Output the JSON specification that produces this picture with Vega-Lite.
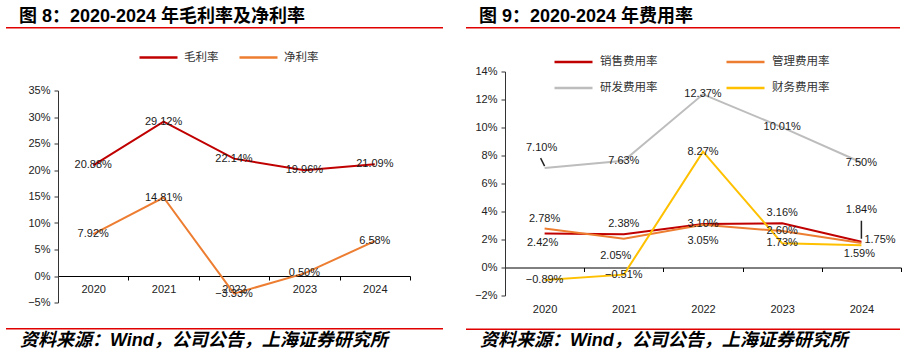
{
  "$schema": "https://vega.github.io/schema/vega-lite/v6.json",
  "background": "white",
  "padding": {"left": 6, "top": 8, "right": 0, "bottom": 0},
  "config": {"view": {"stroke": null}},
  "datasets": {
    "gross": [
      {"year": "2020", "series": "毛利率", "v": 0.2088},
      {"year": "2021", "series": "毛利率", "v": 0.2912},
      {"year": "2022", "series": "毛利率", "v": 0.2214},
      {"year": "2023", "series": "毛利率", "v": 0.1996},
      {"year": "2024", "series": "毛利率", "v": 0.2109},
      {"year": "2020", "series": "净利率", "v": 0.0792},
      {"year": "2021", "series": "净利率", "v": 0.1481},
      {"year": "2022", "series": "净利率", "v": -0.0333},
      {"year": "2023", "series": "净利率", "v": 0.0050},
      {"year": "2024", "series": "净利率", "v": 0.0658}
    ],
    "fee": [
      {"year": "2020", "item": "销售费用率", "v": 0.0242},
      {"year": "2021", "item": "销售费用率", "v": 0.0238},
      {"year": "2022", "item": "销售费用率", "v": 0.0310},
      {"year": "2023", "item": "销售费用率", "v": 0.0316},
      {"year": "2024", "item": "销售费用率", "v": 0.0184},
      {"year": "2020", "item": "管理费用率", "v": 0.0278},
      {"year": "2021", "item": "管理费用率", "v": 0.0205},
      {"year": "2022", "item": "管理费用率", "v": 0.0305},
      {"year": "2023", "item": "管理费用率", "v": 0.0260},
      {"year": "2024", "item": "管理费用率", "v": 0.0175},
      {"year": "2020", "item": "研发费用率", "v": 0.0710},
      {"year": "2021", "item": "研发费用率", "v": 0.0763},
      {"year": "2022", "item": "研发费用率", "v": 0.1237},
      {"year": "2023", "item": "研发费用率", "v": 0.1001},
      {"year": "2024", "item": "研发费用率", "v": 0.0750},
      {"year": "2020", "item": "财务费用率", "v": -0.0089},
      {"year": "2021", "item": "财务费用率", "v": -0.0051},
      {"year": "2022", "item": "财务费用率", "v": 0.0827},
      {"year": "2023", "item": "财务费用率", "v": 0.0173},
      {"year": "2024", "item": "财务费用率", "v": 0.0159}
    ]
  },
  "spacing": 23,
  "resolve": {"scale": {"color": "independent", "x": "independent", "y": "independent"}, "legend": {"color": "independent"}},
  "hconcat": [
    {
      "spacing": 7.5,
      "resolve": {"scale": {"color": "independent", "x": "independent", "y": "independent"}, "legend": {"color": "independent"}},
      "vconcat": [
        {
          "width": 437, "height": 1.5,
          "data": {"values": []},
          "mark": "rule", "encoding": {},
          "view": {"fill": "#E00000", "stroke": null},
          "title": {"text": "图 8：2020-2024 年毛利率及净利率", "anchor": "start", "dx": 13, "dy": 17, "offset": 4, "baseline": "alphabetic", "font": "Liberation Sans, Noto Sans CJK SC", "fontSize": 18, "fontWeight": "bold", "color": "#000"}
        },
        {
          "spacing": 20.5,
          "resolve": {"scale": {"color": "independent", "x": "independent", "y": "independent"}, "legend": {"color": "independent"}},
          "vconcat": [
            {
              "spacing": 20,
              "resolve": {"scale": {"color": "independent", "x": "independent", "y": "independent"}, "legend": {"color": "independent"}},
              "hconcat": [
                {"width": 1, "height": 1, "data": {"values": []}, "mark": "rule", "encoding": {}},
                {
                  "width": 352, "height": 212,
                  "data": {"name": "gross"},
                  "encoding": {
                    "x": {"field": "year", "type": "ordinal", "scale": {"type": "band", "paddingInner": 0, "paddingOuter": 0},
                      "axis": {"title": null, "labelAngle": 0, "offset": -26.5, "tickBand": "extent", "tickSize": 4, "labelPadding": 3, "domainColor": "#000", "tickColor": "#000", "labelFont": "Liberation Sans", "labelFontSize": 11, "labelColor": "#222"}},
                    "y": {"field": "v", "type": "quantitative", "scale": {"domain": [-0.05, 0.35], "nice": false, "zero": false},
                      "axis": {"title": null, "values": [-0.05, 0, 0.05, 0.1, 0.15, 0.2, 0.25, 0.3, 0.35], "format": ".0%", "grid": false, "tickSize": 4, "labelPadding": 4, "domainColor": "#333", "tickColor": "#333", "labelFont": "Liberation Sans", "labelFontSize": 11, "labelColor": "#222"}}
                  },
                  "layer": [
                    {
                      "mark": {"type": "line", "strokeWidth": 2},
                      "encoding": {
                        "color": {"field": "series", "type": "nominal", "sort": ["毛利率", "净利率"],
                          "scale": {"domain": ["毛利率", "净利率"], "range": ["#C00000", "#ED7D31"]},
                          "legend": {"title": null, "orient": "none", "legendX": 80, "legendY": -53.5, "direction": "horizontal", "symbolType": "stroke", "symbolSize": 1444, "symbolStrokeWidth": 2.5, "labelFont": "Noto Sans CJK SC", "labelFontSize": 11.5, "labelOffset": 5, "columnPadding": 15, "labelColor": "#333"}}
                      }
                    },
                    {
                      "mark": {"type": "text", "font": "Liberation Sans", "fontSize": 11, "color": "#1a1a1a"},
                      "encoding": {"text": {"field": "v", "type": "quantitative", "format": ".2%"}}
                    }
                  ]
                }
              ]
            },
            {
              "width": 437, "height": 1.5,
              "data": {"values": []},
              "mark": "rule", "encoding": {},
              "view": {"fill": "#E00000", "stroke": null},
              "title": {"text": "资料来源：Wind，公司公告，上海证券研究所", "orient": "bottom", "anchor": "start", "dx": 14, "offset": 16, "baseline": "alphabetic", "font": "Liberation Sans, Noto Sans CJK SC", "fontSize": 18, "fontStyle": "italic", "fontWeight": "bold", "color": "#000"}
            }
          ]
        }
      ]
    },
    {
      "spacing": 12.5,
      "resolve": {"scale": {"color": "independent", "x": "independent", "y": "independent"}, "legend": {"color": "independent"}},
      "vconcat": [
        {
          "width": 434, "height": 1.5,
          "data": {"values": []},
          "mark": "rule", "encoding": {},
          "view": {"fill": "#E00000", "stroke": null},
          "title": {"text": "图 9：2020-2024 年费用率", "anchor": "start", "dx": 13, "dy": 17, "offset": 4, "baseline": "alphabetic", "font": "Liberation Sans, Noto Sans CJK SC", "fontSize": 18, "fontWeight": "bold", "color": "#000"}
        },
        {
          "spacing": 14,
          "resolve": {"scale": {"color": "independent", "x": "independent", "y": "independent"}, "legend": {"color": "independent"}},
          "vconcat": [
            {
              "spacing": 7,
              "resolve": {"scale": {"color": "independent", "x": "independent", "y": "independent"}, "legend": {"color": "independent"}},
              "hconcat": [
                {"width": 1, "height": 1, "data": {"values": []}, "mark": "rule", "encoding": {}},
                {
                  "width": 396, "height": 224,
                  "data": {"name": "fee"},
                  "encoding": {
                    "x": {"field": "year", "type": "ordinal", "scale": {"type": "band", "paddingInner": 0, "paddingOuter": 0},
                      "axis": {"title": null, "labelAngle": 0, "offset": -28, "tickBand": "extent", "tickSize": 4, "labelPadding": 32, "domainColor": "#000", "tickColor": "#000", "labelFont": "Liberation Sans", "labelFontSize": 11, "labelColor": "#222"}},
                    "y": {"field": "v", "type": "quantitative", "scale": {"domain": [-0.02, 0.14], "nice": false, "zero": false},
                      "axis": {"title": null, "values": [-0.02, 0, 0.02, 0.04, 0.06, 0.08, 0.1, 0.12, 0.14], "format": ".0%", "grid": false, "tickSize": 4, "labelPadding": 4, "domainColor": "#333", "tickColor": "#333", "labelFont": "Liberation Sans", "labelFontSize": 11, "labelColor": "#222"}}
                  },
                  "layer": [
                    {
                      "mark": {"type": "line", "strokeWidth": 2},
                      "encoding": {
                        "color": {"field": "item", "type": "nominal", "sort": ["销售费用率", "管理费用率", "研发费用率", "财务费用率"],
                          "scale": {"domain": ["销售费用率", "管理费用率", "研发费用率", "财务费用率"], "range": ["#C00000", "#ED7D31", "#BDBDBD", "#FFC000"]},
                          "legend": {"title": null, "orient": "none", "legendX": 48, "legendY": -30, "columns": 2, "direction": "horizontal", "symbolType": "stroke", "symbolSize": 1444, "symbolStrokeWidth": 2.5, "labelFont": "Noto Sans CJK SC", "labelFontSize": 11.5, "labelOffset": 6, "columnPadding": 63, "rowPadding": -3, "labelColor": "#333"}}
                      }
                    },
                    {
                      "transform": [{"filter": "indexof(['管理费用率2020','销售费用率2020','销售费用率2021','管理费用率2021','管理费用率2022','销售费用率2023','销售费用率2024','管理费用率2024','财务费用率2024','研发费用率2020'], datum.item + datum.year) < 0"}],
                      "mark": {"type": "text", "font": "Liberation Sans", "fontSize": 11, "color": "#1a1a1a"},
                      "encoding": {"text": {"field": "v", "type": "quantitative", "format": ".2%"}}
                    },
                    {
                      "transform": [{"filter": "indexof(['管理费用率2020','销售费用率2021','销售费用率2023'], datum.item + datum.year) >= 0"}],
                      "mark": {"type": "text", "font": "Liberation Sans", "fontSize": 11, "color": "#1a1a1a", "dy": -10},
                      "encoding": {"text": {"field": "v", "type": "quantitative", "format": ".2%"}}
                    },
                    {
                      "transform": [{"filter": "indexof(['销售费用率2020','财务费用率2024'], datum.item + datum.year) >= 0"}],
                      "mark": {"type": "text", "font": "Liberation Sans", "fontSize": 11, "color": "#1a1a1a", "dy": 9, "dx": -2},
                      "encoding": {"text": {"field": "v", "type": "quantitative", "format": ".2%"}}
                    },
                    {
                      "transform": [{"filter": "datum.item + datum.year == '管理费用率2022'"}],
                      "mark": {"type": "text", "font": "Liberation Sans", "fontSize": 11, "color": "#1a1a1a", "dy": 16},
                      "encoding": {"text": {"field": "v", "type": "quantitative", "format": ".2%"}}
                    },
                    {
                      "transform": [{"filter": "datum.item + datum.year == '管理费用率2021'"}],
                      "mark": {"type": "text", "font": "Liberation Sans", "fontSize": 11, "color": "#1a1a1a", "dy": 17, "dx": -8},
                      "encoding": {"text": {"field": "v", "type": "quantitative", "format": ".2%"}}
                    },
                    {
                      "transform": [{"filter": "datum.item + datum.year == '研发费用率2020'"}],
                      "mark": {"type": "text", "font": "Liberation Sans", "fontSize": 11, "color": "#1a1a1a", "dy": -20, "dx": -3},
                      "encoding": {"text": {"field": "v", "type": "quantitative", "format": ".2%"}}
                    },
                    {
                      "transform": [{"filter": "datum.item + datum.year == '销售费用率2024'"}],
                      "mark": {"type": "text", "font": "Liberation Sans", "fontSize": 11, "color": "#1a1a1a", "dy": -32},
                      "encoding": {"text": {"field": "v", "type": "quantitative", "format": ".2%"}}
                    },
                    {
                      "transform": [{"filter": "datum.item + datum.year == '管理费用率2024'"}],
                      "mark": {"type": "text", "font": "Liberation Sans", "fontSize": 11, "color": "#1a1a1a", "align": "left", "dx": 3, "dy": -3},
                      "encoding": {"text": {"field": "v", "type": "quantitative", "format": ".2%"}}
                    },
                    {
                      "transform": [{"filter": "datum.item + datum.year == '研发费用率2020'"}],
                      "mark": {"type": "rule", "color": "#222", "strokeWidth": 1.5, "xOffset": -4, "x2Offset": 0, "yOffset": -10, "y2Offset": -2},
                      "encoding": {"x2": {"field": "year"}, "y2": {"field": "v"}}
                    },
                    {
                      "transform": [{"filter": "datum.item + datum.year == '销售费用率2024'"}],
                      "mark": {"type": "rule", "color": "#222", "strokeWidth": 1.5, "yOffset": -3, "y2Offset": -21},
                      "encoding": {"y2": {"field": "v"}}
                    }
                  ]
                }
              ]
            },
            {
              "width": 434, "height": 1.5,
              "data": {"values": []},
              "mark": "rule", "encoding": {},
              "view": {"fill": "#E00000", "stroke": null},
              "title": {"text": "资料来源：Wind，公司公告，上海证券研究所", "orient": "bottom", "anchor": "start", "dx": 14, "offset": 16, "baseline": "alphabetic", "font": "Liberation Sans, Noto Sans CJK SC", "fontSize": 18, "fontStyle": "italic", "fontWeight": "bold", "color": "#000"}
            }
          ]
        }
      ]
    }
  ]
}
